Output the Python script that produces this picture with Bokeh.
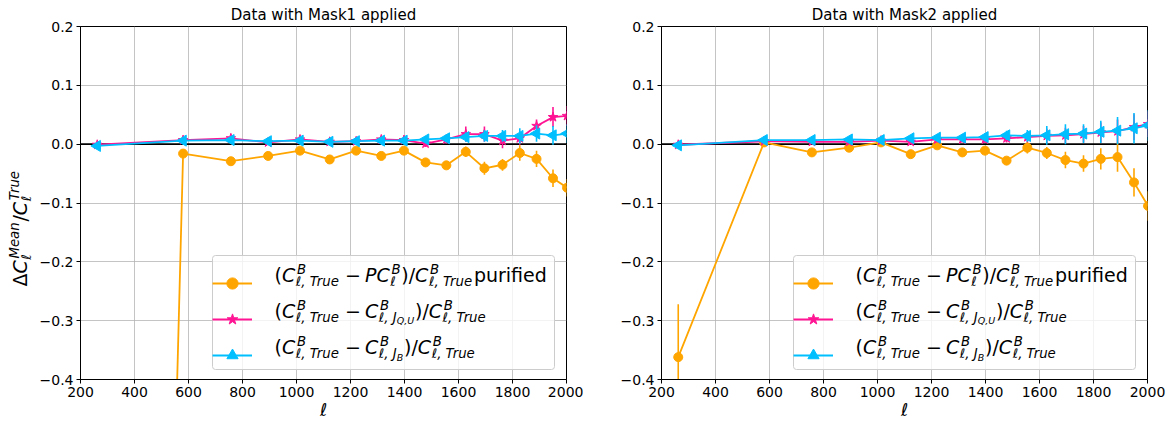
import math
from bokeh.plotting import figure
from bokeh.layouts import row
from bokeh.models import (Range1d, FixedTicker, CustomJSTickFormatter, Span, Label,
                          Legend, LegendItem, ColumnDataSource, BoxAnnotation)
from bokeh.core.properties import value
from bokeh.embed import file_html
from bokeh.resources import INLINE

# ---------------- data ----------------
ell = [262, 580, 757, 895, 1013, 1123, 1221, 1314, 1398, 1478, 1555, 1627, 1696, 1763, 1827, 1889, 1950, 2002]

m1_pur = [-5.6, -0.016, -0.029, -0.020, -0.011, -0.026, -0.011, -0.020, -0.011, -0.031, -0.036, -0.013, -0.041, -0.035, -0.015, -0.025, -0.058, -0.074]
m1_pur_err = [0.3, 0.004, 0.004, 0.004, 0.004, 0.004, 0.004, 0.005, 0.005, 0.005, 0.005, 0.009, 0.011, 0.010, 0.013, 0.014, 0.015, 0.015]
m1_jqu = [-0.001, 0.007, 0.010, 0.003, 0.008, 0.004, 0.005, 0.008, 0.007, 0.001, 0.008, 0.017, 0.017, 0.006, 0.010, 0.031, 0.046, 0.048]
m1_jqu_err = [0.002, 0.003, 0.004, 0.004, 0.004, 0.004, 0.004, 0.005, 0.006, 0.006, 0.007, 0.013, 0.013, 0.013, 0.011, 0.011, 0.017, 0.017]
m1_jb = [-0.003, 0.006, 0.007, 0.005, 0.006, 0.004, 0.005, 0.006, 0.006, 0.008, 0.010, 0.012, 0.014, 0.014, 0.014, 0.018, 0.015, 0.018]
m1_jb_err = [0.002, 0.003, 0.003, 0.003, 0.003, 0.003, 0.004, 0.004, 0.005, 0.005, 0.006, 0.008, 0.010, 0.010, 0.013, 0.014, 0.016, 0.016]

m2_pur = [-0.362, 0.003, -0.014, -0.006, 0.003, -0.017, -0.002, -0.014, -0.011, -0.028, -0.006, -0.015, -0.027, -0.033, -0.025, -0.022, -0.065, -0.105]
m2_pur_err = [0.09, 0.004, 0.004, 0.004, 0.004, 0.004, 0.004, 0.005, 0.005, 0.006, 0.010, 0.010, 0.014, 0.014, 0.018, 0.025, 0.024, 0.025]
m2_jqu = [-0.001, 0.005, 0.004, 0.004, 0.006, 0.004, 0.008, 0.008, 0.008, 0.010, 0.012, 0.014, 0.015, 0.017, 0.020, 0.022, 0.029, 0.034]
m2_jqu_err = [0.002, 0.003, 0.003, 0.003, 0.004, 0.004, 0.005, 0.005, 0.006, 0.007, 0.009, 0.012, 0.013, 0.014, 0.017, 0.020, 0.022, 0.022]
m2_jb = [-0.002, 0.007, 0.007, 0.008, 0.007, 0.010, 0.011, 0.011, 0.012, 0.015, 0.014, 0.015, 0.017, 0.018, 0.021, 0.023, 0.027, 0.032]
m2_jb_err = [0.002, 0.003, 0.003, 0.003, 0.004, 0.004, 0.005, 0.006, 0.007, 0.008, 0.010, 0.016, 0.017, 0.016, 0.019, 0.023, 0.026, 0.026]

titles = ["Data with Mask1 applied", "Data with Mask2 applied"]
x_ticks = [200, 400, 600, 800, 1000, 1200, 1400, 1600, 1800, 2000]
y_ticks = [-0.4, -0.3, -0.2, -0.1, 0.0, 0.1, 0.2]
x_label = "ℓ"

ORANGE = "#FFA500"
PINK = "#FF1493"
CYAN = "#00BFFF"
FONT = "DejaVu Sans"

# ---------------- math-like text layout ----------------
W = {"(": 0.390, ")": 0.390, "/": 0.337, " ": 0.318, "−": 0.838, ",": 0.318, "T": 0.611,
     "r": 0.411, "u": 0.634, "e": 0.615, "p": 0.635, "i": 0.278, "f": 0.352, "d": 0.635,
     "C": 0.698, "P": 0.603, "B": 0.686, "ℓ": 0.417, "J": 0.295, "Q": 0.787, "U": 0.732,
     "M": 0.863, "a": 0.613, "n": 0.634, "Δ": 0.684}
ANCHOR_FIX = 0.38   # label anchor correction, fraction of font size


def tw(s, size):
    return sum(W.get(c, 0.6) for c in s) * size


def layout(tokens, F):
    out = []
    u = 0.0
    for t in tokens:
        if t[0] == "txt":
            out.append((u, 0.0, t[1], F, t[2]))
            u += tw(t[1], F)
        elif t[0] == "op":
            u += 0.22 * F
            out.append((u, 0.0, t[1], F, False))
            u += tw(t[1], F) + 0.22 * F
        else:
            _, sup, sub, subsub = t
            s1 = 0.7 * F
            s2 = 0.5 * F
            u0 = u + 0.03 * F
            out.append((u0 + 0.06 * F, 0.40 * F, sup, s1, True))
            out.append((u0, -0.22 * F, sub, s1, True))
            wsub = tw(sub, s1)
            if subsub:
                out.append((u0 + wsub, -0.34 * F, subsub, s2, True))
                wsub += tw(subsub, s2)
            u = u0 + max(tw(sup, s1) + 0.06 * F, wsub) + 0.04 * F
    return out


def add_text(p, pieces, x0, y0, rotated=False):
    for (u, v, txt, size, italic) in pieces:
        v = v + ANCHOR_FIX * size
        if rotated:
            x, y, ang = x0 - v, y0 + u, math.pi / 2
        else:
            x, y, ang = x0 + u, y0 + v, 0.0
        p.add_layout(Label(x=x, y=y, x_units="screen", y_units="screen", text=txt, angle=ang,
                           text_font=FONT, text_font_size=f"{size:.1f}px",
                           text_font_style="italic" if italic else "normal", level="overlay",
                           text_color="black", text_baseline="alphabetic", text_align="left"))


leg_rows = [
    [("txt", "(", False), ("txt", "C", True), ("scr", "B", "ℓ, True", None), ("op", "−"),
     ("txt", "PC", True), ("scr", "B", "ℓ", None), ("txt", ")/", False), ("txt", "C", True),
     ("scr", "B", "ℓ, True", None), ("txt", " purified", False)],
    [("txt", "(", False), ("txt", "C", True), ("scr", "B", "ℓ, True", None), ("op", "−"),
     ("txt", "C", True), ("scr", "B", "ℓ, J", "Q,U"), ("txt", ")/", False), ("txt", "C", True),
     ("scr", "B", "ℓ, True", None)],
    [("txt", "(", False), ("txt", "C", True), ("scr", "B", "ℓ, True", None), ("op", "−"),
     ("txt", "C", True), ("scr", "B", "ℓ, J", "B"), ("txt", ")/", False), ("txt", "C", True),
     ("scr", "B", "ℓ, True", None)],
]
ylab_tokens = [("txt", "Δ", False), ("txt", "C", True), ("scr", "Mean", "ℓ", None),
               ("txt", "/", False), ("txt", "C", True), ("scr", "True", "ℓ", None)]

FRAME_W, FRAME_H = 486, 353
TOP = 25
ROW_H = 423
YLAB_W = 36
FLEG = 19.0

# legend geometry
LEG_X, LEG_Y = 132, 10
PAD, SPACING, GW, GH, STAND, LW = 7, 8, 40, 28, 15, 273
LEG_W = 2 * PAD + GW + STAND + LW
LEG_H = 2 * PAD + 3 * GH + 2 * SPACING


def blank(width, height):
    f = figure(frame_width=width, frame_height=height, x_axis_type=None, y_axis_type=None,
               output_backend="svg", toolbar_location=None, min_border=0,
               x_range=Range1d(0, 1), y_range=Range1d(0, 1))
    f.outline_line_color = None
    f.xgrid.visible = False
    f.ygrid.visible = False
    f.background_fill_color = "white"
    f.border_fill_color = "white"
    return f


def make_panel(title, series, left, right):
    p = figure(frame_width=FRAME_W, frame_height=FRAME_H, x_range=Range1d(200, 2000),
               y_range=Range1d(-0.4, 0.2), output_backend="svg", toolbar_location=None,
               min_border_left=left, min_border_right=right, min_border_top=TOP,
               min_border_bottom=0, title=title)
    p.background_fill_color = "white"
    p.border_fill_color = "white"
    p.outline_line_color = "black"
    p.outline_line_width = 1
    p.outline_line_alpha = 1
    p.title.text_font = FONT
    p.title.text_font_size = "15px"
    p.title.text_font_style = "normal"
    p.title.align = "center"
    p.title.standoff = 6
    p.title.text_color = "black"

    for ax in (p.xaxis[0], p.yaxis[0]):
        ax.axis_line_color = "black"
        ax.major_tick_line_color = "black"
        ax.major_tick_out = 4
        ax.major_tick_in = 0
        ax.minor_tick_line_color = None
        ax.major_label_text_font = FONT
        ax.major_label_text_font_size = "14px"
        ax.major_label_text_color = "black"
    p.xaxis.ticker = FixedTicker(ticks=x_ticks)
    p.yaxis.ticker = FixedTicker(ticks=y_ticks)
    p.yaxis.formatter = CustomJSTickFormatter(
        code="return (tick < -1e-9 ? '\\u2212' : '') + Math.abs(tick).toFixed(1);")
    p.yaxis.major_label_standoff = 3
    p.xaxis.major_label_standoff = 3
    p.xaxis.axis_label = x_label
    p.xaxis.axis_label_text_font = FONT
    p.xaxis.axis_label_text_font_size = "17.5px"
    p.xaxis.axis_label_text_font_style = "italic"
    p.xaxis.axis_label_text_color = "black"
    p.xaxis.axis_label_standoff = 0
    for g in (p.xgrid[0], p.ygrid[0]):
        g.grid_line_color = "#b0b0b0"
        g.grid_line_width = 1
        g.grid_line_alpha = 0.75

    zero = Span(location=0, dimension="width", line_color="black", line_width=1.6, level="underlay")
    p.add_layout(zero)

    # legend frame (drawn beneath the data, over the grid)
    box = BoxAnnotation(left=LEG_X, right=LEG_X + LEG_W, bottom=LEG_Y, top=LEG_Y + LEG_H,
                        left_units="screen", right_units="screen", bottom_units="screen",
                        top_units="screen", fill_color="white", fill_alpha=0.8,
                        line_color="#cccccc", line_width=1, line_alpha=1, border_radius=3,
                        level="underlay")
    p.add_layout(box)

    items = []
    for (yv, ev, color, marker, msize, angle) in series:
        src = ColumnDataSource(dict(x=ell, y=yv, lo=[a - b for a, b in zip(yv, ev)],
                                    hi=[a + b for a, b in zip(yv, ev)]))
        ln = p.line("x", "y", source=src, line_color=color, line_width=1.8)
        p.segment(x0="x", y0="lo", x1="x", y1="hi", source=src, line_color=color, line_width=1.6)
        sc = p.scatter("x", "y", source=src, marker=marker, size=msize, angle=angle,
                       fill_color=color, line_color=color)
        eb = p.scatter(x=[], y=[], marker="cross", line_color=color, line_width=1.6)
        items.append(LegendItem(label=value(" "), renderers=[ln, eb, sc]))

    leg = Legend(items=items, location=(LEG_X, LEG_Y), padding=PAD, spacing=SPACING,
                 glyph_width=GW, glyph_height=GH, label_standoff=STAND, label_width=LW,
                 label_height=GH, label_text_font_size="10px", border_line_color=None,
                 background_fill_alpha=0.0, margin=0)
    p.add_layout(leg, "center")

    # legend texts (frame-relative screen units, y measured from frame bottom)
    base = [280.5, 316.5, 353.0]
    for toks, b in zip(leg_rows, base):
        add_text(p, layout(toks, FLEG), 194, (TOP + FRAME_H) - b)
    return p


s1 = [(m1_pur, m1_pur_err, ORANGE, "circle", 9, 0.0),
      (m1_jqu, m1_jqu_err, PINK, "star", 10, 0.0),
      (m1_jb, m1_jb_err, CYAN, "triangle", 11, math.pi / 2)]
s2 = [(m2_pur, m2_pur_err, ORANGE, "circle", 9, 0.0),
      (m2_jqu, m2_jqu_err, PINK, "star", 10, 0.0),
      (m2_jb, m2_jb_err, CYAN, "triangle", 11, math.pi / 2)]

# y-axis label strip (left of panel 1)
ylab = blank(YLAB_W, ROW_H)
add_text(ylab, layout(ylab_tokens, 19.0), 27, ROW_H - 260, rotated=True)

p1 = make_panel(titles[0], s1, 78 - YLAB_W, 17)
p2 = make_panel(titles[1], s2, 78, 28)

layout_all = row(ylab, p1, p2)
open("out.html", "w").write(file_html(layout_all, INLINE))
